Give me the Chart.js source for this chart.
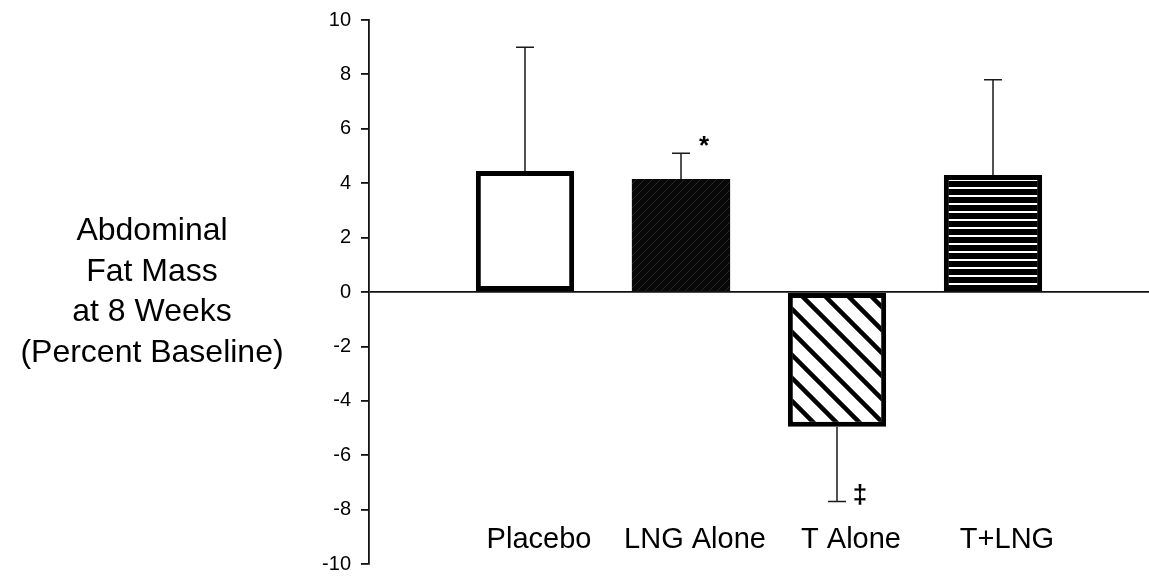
<!DOCTYPE html>
<html>
<head>
<meta charset="utf-8">
<script src="https://cdn.jsdelivr.net/npm/chart.js@4.4.1/dist/chart.umd.min.js"></script>
<style>
  html, body { margin: 0; padding: 0; background: #fff; }
</style>
</head>
<body>
<canvas id="chart" width="1149" height="584"></canvas>
<script>
// data
const groups = ['Placebo', 'LNG Alone', 'T Alone', 'T+LNG'];
const meanChange = [4.45, 4.15, -4.95, 4.3];
const errorSize = [4.55, 0.95, 2.75, 3.5];
const marks = ['', '*', '\u2021', ''];
const yTitle = ['Abdominal', 'Fat Mass', 'at 8 Weeks', '(Percent Baseline)'];
const yMin = -10;
const yMax = 10;
const yStep = 2;

const FONT = "'Liberation Sans', Arial, sans-serif";

// empty slot on each side so the bars sit where the figure has them
const slots = ['', ...groups, ''];
const slotValues = [null, ...meanChange, null];

// fill patterns for the bars
function tile(w, h, paint) {
  const c = document.createElement('canvas');
  c.width = w;
  c.height = h;
  paint(c.getContext('2d'), w, h);
  return document.createElement('canvas').getContext('2d').createPattern(c, 'repeat');
}

const darkHatch = tile(8, 8, (g, w, h) => {
  g.fillStyle = '#080808';
  g.fillRect(0, 0, w, h);
  g.strokeStyle = '#262626';
  g.lineWidth = 1;
  g.beginPath();
  g.moveTo(-1, h + 1); g.lineTo(w + 1, -1);
  g.moveTo(-2, 2); g.lineTo(2, -2);
  g.moveTo(w - 2, h + 2); g.lineTo(w + 2, h - 2);
  g.stroke();
});

const backHatch = tile(23, 23, (g, w, h) => {
  g.fillStyle = '#fff';
  g.fillRect(0, 0, w, h);
  g.strokeStyle = '#000';
  g.lineWidth = 4.5;
  g.beginPath();
  g.moveTo(-2, -2); g.lineTo(w + 2, h + 2);
  g.moveTo(w - 6, -6); g.lineTo(w + 6, 6);
  g.moveTo(-6, h - 6); g.lineTo(6, h + 6);
  g.stroke();
});

const stripes = tile(8, 8, (g, w, h) => {
  g.fillStyle = '#000';
  g.fillRect(0, 0, w, h);
  g.fillStyle = '#fff';
  g.fillRect(0, 3, w, 2);
});

const barFills = [null, '#fff', darkHatch, backHatch, stripes, null];
const barBorders = [0, 5, 0, 5, 5, 0];

// error bars, significance marks, group names, y title
const extras = {
  id: 'extras',
  afterDatasetsDraw(chart) {
    const { ctx, scales: { y }, chartArea } = chart;
    const meta = chart.getDatasetMeta(0);
    ctx.save();
    groups.forEach((name, i) => {
      const bar = meta.data[i + 1];
      const sign = meanChange[i] < 0 ? -1 : 1;
      const y0 = y.getPixelForValue(meanChange[i]);
      const y1 = y.getPixelForValue(meanChange[i] + sign * errorSize[i]);
      ctx.strokeStyle = '#1a1a1a';
      ctx.lineWidth = 1.5;
      ctx.beginPath();
      ctx.moveTo(bar.x, y0);
      ctx.lineTo(bar.x, y1);
      ctx.moveTo(bar.x - 9, y1);
      ctx.lineTo(bar.x + 9, y1);
      ctx.stroke();

      if (marks[i]) {
        ctx.fillStyle = '#000';
        ctx.font = 'bold 26px ' + FONT;
        ctx.textAlign = 'center';
        ctx.textBaseline = 'middle';
        ctx.fillText(marks[i], bar.x + 23, y1 - 6);
      }

      ctx.fillStyle = '#000';
      ctx.font = '29px ' + FONT;
      ctx.textAlign = 'center';
      ctx.textBaseline = 'middle';
      ctx.fillText(name, bar.x + 14, y.getPixelForValue(-9.1));
    });

    ctx.fillStyle = '#000';
    ctx.font = '32px ' + FONT;
    ctx.textAlign = 'center';
    ctx.textBaseline = 'middle';
    const mid = (chartArea.top + chartArea.bottom) / 2;
    yTitle.forEach((line, k) => {
      ctx.fillText(line, 152, mid + (k - (yTitle.length - 1) / 2) * 40.5);
    });
    ctx.restore();
  }
};

new Chart(document.getElementById('chart'), {
  type: 'bar',
  data: {
    labels: slots,
    datasets: [{
      data: slotValues,
      backgroundColor: barFills,
      borderColor: '#000',
      borderWidth: barBorders,
      borderSkipped: false,
      barPercentage: 1,
      categoryPercentage: 0.63
    }]
  },
  options: {
    responsive: false,
    animation: false,
    layout: { padding: { top: 20, bottom: 9, left: 0, right: -8 } },
    plugins: {
      legend: { display: false },
      tooltip: { enabled: false }
    },
    scales: {
      x: {
        offset: false,
        display: false
      },
      y: {
        min: yMin,
        max: yMax,
        afterFit: s => { s.width = 369; },
        ticks: {
          stepSize: yStep,
          padding: 10,
          color: '#000',
          font: { family: FONT, size: 20, lineHeight: 1 }
        },
        grid: {
          color: c => (c.tick && c.tick.value === 0 ? '#111' : 'rgba(0,0,0,0)'),
          lineWidth: 1.8,
          tickColor: '#111',
          tickLength: 8
        },
        border: { display: true, color: '#111', width: 1.8 }
      }
    }
  },
  plugins: [extras]
});
</script>
</body>
</html>
